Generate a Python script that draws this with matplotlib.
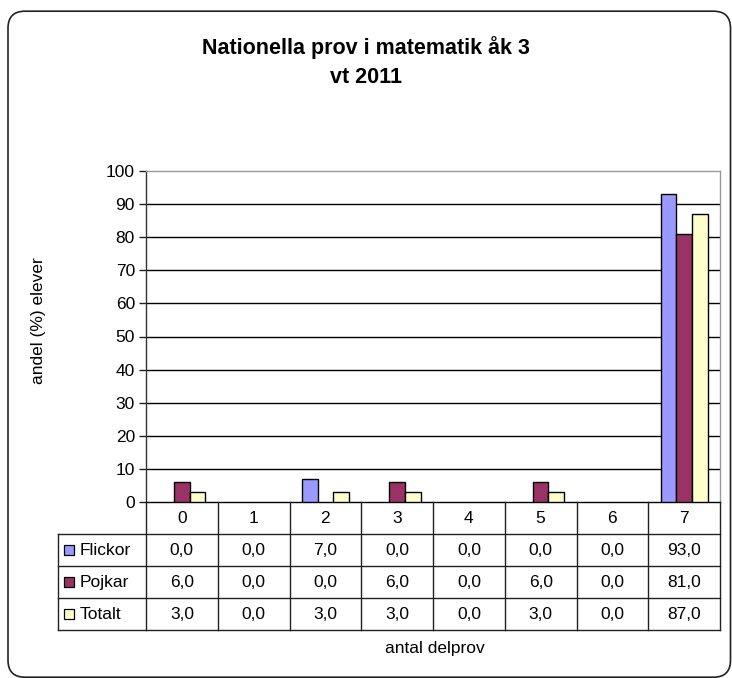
import matplotlib
matplotlib.use("Agg")
import matplotlib.pyplot as plt
from matplotlib.patches import FancyBboxPatch, Rectangle
import numpy as np

plt.rcParams['font.family'] = ['Liberation Sans', 'DejaVu Sans']

# data
categories = ['0', '1', '2', '3', '4', '5', '6', '7']
series = ['Flickor', 'Pojkar', 'Totalt']
flickor = [0.0, 0.0, 7.0, 0.0, 0.0, 0.0, 0.0, 93.0]
pojkar = [6.0, 0.0, 0.0, 6.0, 0.0, 6.0, 0.0, 81.0]
totalt = [3.0, 0.0, 3.0, 3.0, 0.0, 3.0, 0.0, 87.0]
colors = ['#9999FF', '#993366', '#FFFFCC']

W, H = 732, 678
fig = plt.figure(figsize=(W / 100, H / 100), dpi=100)

# rounded chart border
border = FancyBboxPatch((8, 0.8), 722.5, 666, boxstyle='round,pad=0,rounding_size=17',
                        transform=None, fill=False, edgecolor='#222222', linewidth=1.2)
fig.patches.append(border)

# plot area (pixels -> figure fraction)
px_l, px_r, px_t, px_b = 146, 720, 171, 502
ax = fig.add_axes([px_l / W, (H - px_b) / H, (px_r - px_l) / W, (px_b - px_t) / H])

x = np.arange(len(categories))
bw = 0.219
for k, (vals, c) in enumerate(zip([flickor, pojkar, totalt], colors)):
    # zero-height bars are not outlined in the original
    lws = [1.0 if v > 0 else 0.0 for v in vals]
    ax.bar(x + (k - 1) * bw, vals, width=bw, color=c, edgecolor='black',
           linewidth=lws, zorder=3)

ax.set_xlim(-0.5, 7.5)
ax.set_ylim(0, 100)
ax.set_yticks(range(0, 101, 10))
ax.set_xticks([])
ax.tick_params(axis='y', direction='out', length=5, width=1, colors='#222222',
               labelsize=12.5, labelcolor='black', pad=3)
for yv in range(10, 100, 10):
    ax.axhline(yv, color='black', linewidth=1.0, zorder=1)
ax.spines['top'].set_color('#999999')
ax.spines['right'].set_color('#999999')
ax.spines['left'].set_color('#333333')
ax.spines['bottom'].set_color('black')
for s in ax.spines.values():
    s.set_linewidth(1.0)

# data table below the plot
tb_l, tb_r, tb_t, tb_b = 58, 721, 502, 630
tab = fig.add_axes([tb_l / W, (H - tb_b) / H, (tb_r - tb_l) / W, (tb_b - tb_t) / H])
upx = (px_r - px_l) / 8.0
x_left = -0.5 - (px_l - tb_l) / upx
x_right = 7.5 + (tb_r - px_r) / upx
tab.set_xlim(x_left, x_right)
tab.set_ylim(4, 0)
tab.axis('off')

lc = '#222222'
for i in range(9):
    tab.plot([i - 0.5, i - 0.5], [0, 4], color=lc, linewidth=1.0, clip_on=False)
tab.plot([x_left, x_left], [1, 4], color=lc, linewidth=1.0, clip_on=False)
for r in range(1, 5):
    tab.plot([x_left, 7.5], [r, r], color=lc, linewidth=1.0, clip_on=False)

fs = 12.5
for i, c in enumerate(categories):
    tab.text(i, 0.52, c, ha='center', va='center', fontsize=fs)
for r, (name, vals, c) in enumerate(zip(series, [flickor, pojkar, totalt], colors)):
    yc = r + 1.5
    sq = 10 / upx
    tab.add_patch(Rectangle((x_left + 5.5 / upx, yc - 0.15), sq, 0.31,
                            facecolor=c, edgecolor='black', linewidth=0.9, clip_on=False))
    tab.text(x_left + 22 / upx, yc + 0.02, name, ha='left', va='center', fontsize=fs)
    for i, v in enumerate(vals):
        tab.text(i, yc + 0.02, f'{v:.1f}'.replace('.', ','), ha='center', va='center',
                 fontsize=fs)

# titles and axis labels
fig.text(366 / W, 1 - 62 / H, 'Nationella prov i matematik åk 3\nvt 2011', ha='center',
         va='center', fontsize=15.5, fontweight='bold', linespacing=1.45)
fig.text(38 / W, 1 - 321 / H, 'andel (%) elever', rotation=90, ha='center', va='center',
         fontsize=12.5)
fig.text(435 / W, 1 - 648 / H, 'antal delprov', ha='center', va='center', fontsize=12.5)

fig.savefig('out.png', dpi=100)
